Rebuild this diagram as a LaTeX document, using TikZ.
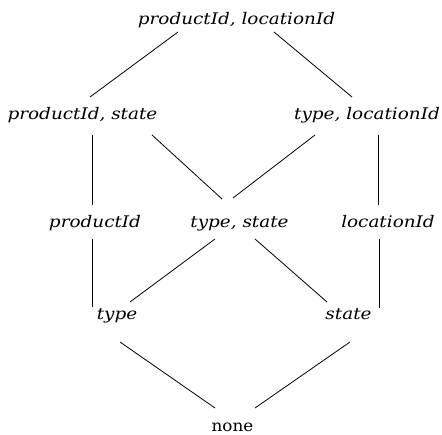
\documentclass[tikz,border=0pt]{standalone}
\usepackage{fontspec}
\newfontfamily\attrfont[FakeStretch=1.15]{DejaVu Serif}
\newfontfamily\plainfont[FakeStretch=1.05]{DejaVu Serif}
\begin{document}
\begin{tikzpicture}[x=1pt,y=-1pt,
  attr/.style={anchor=base,inner sep=0pt,font=\attrfont\itshape\fontsize{16}{19}\selectfont},
  plain/.style={anchor=base,inner sep=0pt,font=\plainfont\fontsize{16}{19}\selectfont},
  edge/.style={draw=black,line width=0.8pt}]
\useasboundingbox[fill=white] (0,0) rectangle (442,435);

% lattice levels
\node[attr] (top)   at (236.5,25)  {productId, locationId};
\node[attr] (ps)    at (82.5,120)  {productId, state};
\node[attr] (tl)    at (367,120)   {type, locationId};
\node[attr] (pid)   at (95,228)    {productId};
\node[attr] (ts)    at (239.5,228) {type, state};
\node[attr] (lid)   at (388,228)   {locationId};
\node[attr] (type)  at (117,320)   {type};
\node[attr] (state) at (348.5,320) {state};
\node[plain] (none) at (232.5,432) {none};

% edges between levels
\draw[edge] ([shift={(-58.5,7)}]top.base) -- ([shift={(7.5,-23)}]ps.base);
\draw[edge] ([shift={(37.5,7)}]top.base) -- ([shift={(-15,-23)}]tl.base);
\draw[edge] ([shift={(9.5,15)}]ps.base) -- ([shift={(-3,-23)}]pid.base);
\draw[edge] ([shift={(69.5,15)}]ps.base) -- ([shift={(-17.5,-29)}]ts.base);
\draw[edge] ([shift={(-52,15)}]tl.base) -- ([shift={(-6.5,-30)}]ts.base);
\draw[edge] ([shift={(11,15)}]tl.base) -- ([shift={(-10,-23)}]lid.base);
\draw[edge] ([shift={(-3,11)}]pid.base) -- ([shift={(-25,-13)}]type.base);
\draw[edge] ([shift={(-24.5,11)}]ts.base) -- ([shift={(13,-18)}]type.base);
\draw[edge] ([shift={(15.5,11)}]ts.base) -- ([shift={(-21.5,-18)}]state.base);
\draw[edge] ([shift={(-9,11)}]lid.base) -- ([shift={(30.5,-12)}]state.base);
\draw[edge] ([shift={(3,22)}]type.base) -- ([shift={(-17.5,-24)}]none.base);
\draw[edge] ([shift={(1.5,22)}]state.base) -- ([shift={(22.5,-24)}]none.base);
\end{tikzpicture}
\end{document}
